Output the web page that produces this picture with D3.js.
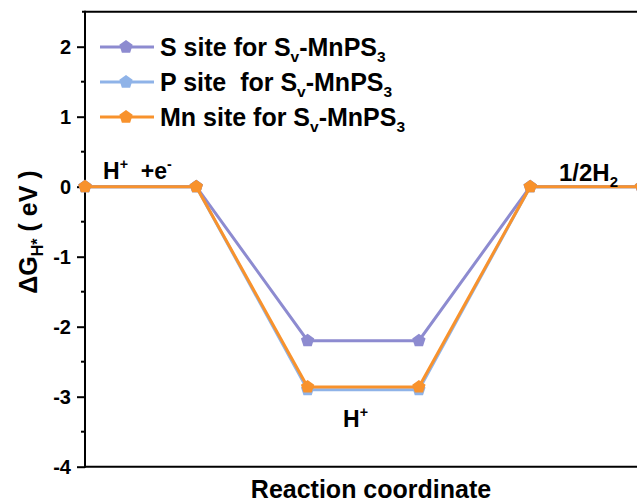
<!DOCTYPE html>
<html><head><meta charset="utf-8">
<script src="https://cdn.jsdelivr.net/npm/d3@7"></script>
<style>body{margin:0;background:#fff}svg{display:block}text{font-family:Arial,"Liberation Sans",sans-serif;font-weight:bold}</style>
</head><body><div id="c"></div>
<script>
const steps = [0, 1, 2, 3, 4, 5];
const sSite = [0, 0, -2.2, -2.2, 0, 0];
const pSite = [0, 0, -2.9, -2.9, 0, 0];
const mnSite = [0, 0, -2.86, -2.86, 0, 0];
const seriesNames = ["S site for S|v|-MnPS|3", "P site  for S|v|-MnPS|3", "Mn site for S|v|-MnPS|3"];
const colors = ["#8d8bd0", "#8fb3e8", "#f8922c"];
const yTicks = [-4, -3, -2, -1, 0, 1, 2];
const yTickLabels = ["-4", "-3", "-2", "-1", "0", "1", "2"];

const W = 637, H = 504;
const svg = d3.select("#c").append("svg").attr("width", W).attr("height", H);
const x = d3.scaleLinear().domain([0, 5]).range([85, 641.5]);
const y = d3.scaleLinear().domain([-4, 2.5]).range([466.7, 11.7]);

// axes
const ya = svg.append("g").attr("transform", "translate(85,0)")
  .call(d3.axisLeft(y).tickValues(yTicks).tickFormat((d, i) => yTickLabels[i]).tickSize(8).tickPadding(6));
ya.select(".domain").remove();
ya.selectAll("line").attr("stroke", "#000").attr("stroke-width", 2);
ya.selectAll("text").style("font-size", "20px").style("font-weight", "bold").attr("fill", "#000").attr("font-family", null);
const minor = d3.range(-3.5, 2.5, 1);
svg.append("g").selectAll("line").data(minor).join("line")
  .attr("x1", 81).attr("x2", 85).attr("y1", d => y(d)).attr("y2", d => y(d))
  .attr("stroke", "#000").attr("stroke-width", 2);
// frame
svg.append("line").attr("x1", 85).attr("x2", 85).attr("y1", y(2.5) - 1).attr("y2", y(-4) + 1).attr("stroke", "#000").attr("stroke-width", 2);
svg.append("line").attr("x1", 84).attr("x2", W).attr("y1", y(-4)).attr("y2", y(-4)).attr("stroke", "#000").attr("stroke-width", 2);
svg.append("line").attr("x1", 82).attr("x2", W).attr("y1", y(2.5)).attr("y2", y(2.5)).attr("stroke", "#000").attr("stroke-width", 2);

function pentPath(r) {
  const pts = d3.range(5).map(i => { const a = -Math.PI / 2 + i * 2 * Math.PI / 5; return [r * Math.cos(a), r * Math.sin(a)]; });
  return "M" + pts.map(p => p.join(",")).join("L") + "Z";
}

const data = [sSite, pSite, mnSite];
const line = d3.line().x((d, i) => x(steps[i])).y(d => y(d));
const order = [1, 0, 2];
order.forEach(k => {
  const g = svg.append("g");
  g.append("path").datum(data[k]).attr("d", line).attr("fill", "none").attr("stroke", colors[k]).attr("stroke-width", 3);
  g.selectAll("path.m").data(data[k]).join("path").attr("class", "m")
    .attr("transform", (d, i) => `translate(${x(steps[i])},${y(d)})`)
    .attr("d", pentPath(7)).attr("fill", colors[k]);
});

// legend
function subText(sel, str, size) {
  const parts = str.split("|");
  parts.forEach((p, i) => {
    const sub = i % 2 === 1;
    sel.append("tspan").text(p)
      .attr("dy", i === 0 ? 0 : (sub ? 6 : -6))
      .style("font-size", sub ? (size * 0.62) + "px" : size + "px");
  });
}
seriesNames.forEach((n, k) => {
  const ly = 47 + k * 35;
  svg.append("line").attr("x1", 100).attr("x2", 154).attr("y1", ly).attr("y2", ly).attr("stroke", colors[k]).attr("stroke-width", 3);
  svg.append("path").attr("transform", `translate(126,${ly})`).attr("d", pentPath(7)).attr("fill", colors[k]);
  const t = svg.append("text").attr("x", 160).attr("y", ly + 9).attr("fill", "#000").style("white-space", "pre");
  subText(t, n, 25);
});

// annotations
function supText(xp, yp, parts, size) {
  const t = svg.append("text").attr("x", xp).attr("y", yp).attr("fill", "#000").style("font-size", size + "px").style("white-space", "pre");
  parts.forEach(([s, kind]) => {
    const tsp = t.append("tspan").text(s);
    if (kind === "sup") tsp.attr("dy", -10).style("font-size", (size * 0.62) + "px");
    else if (kind === "sub") tsp.attr("dy", 6).style("font-size", (size * 0.62) + "px");
    else if (kind === "back") tsp.attr("dy", 10);
  });
  return t;
}
supText(103, 179, [["H", ""], ["+", "sup"], ["  +e", "back"], ["-", "sup"]], 23);
supText(559, 181, [["1/2H", ""], ["2", "sub"]], 24);
supText(343, 427, [["H", ""], ["+", "sup"]], 23);

// axis titles
const yt = svg.append("text").attr("transform", "translate(37,232) rotate(-90)").attr("text-anchor", "middle").attr("fill", "#000").style("font-size", "25px").style("white-space", "pre");
yt.append("tspan").text("ΔG");
yt.append("tspan").text("H*").attr("dy", 6).style("font-size", "16px");
yt.append("tspan").text(" ( eV )").attr("dy", -6);
svg.append("text").attr("x", 371).attr("y", 498).attr("text-anchor", "middle").attr("fill", "#000").style("font-size", "25px").text("Reaction coordinate");
</script></body></html>
